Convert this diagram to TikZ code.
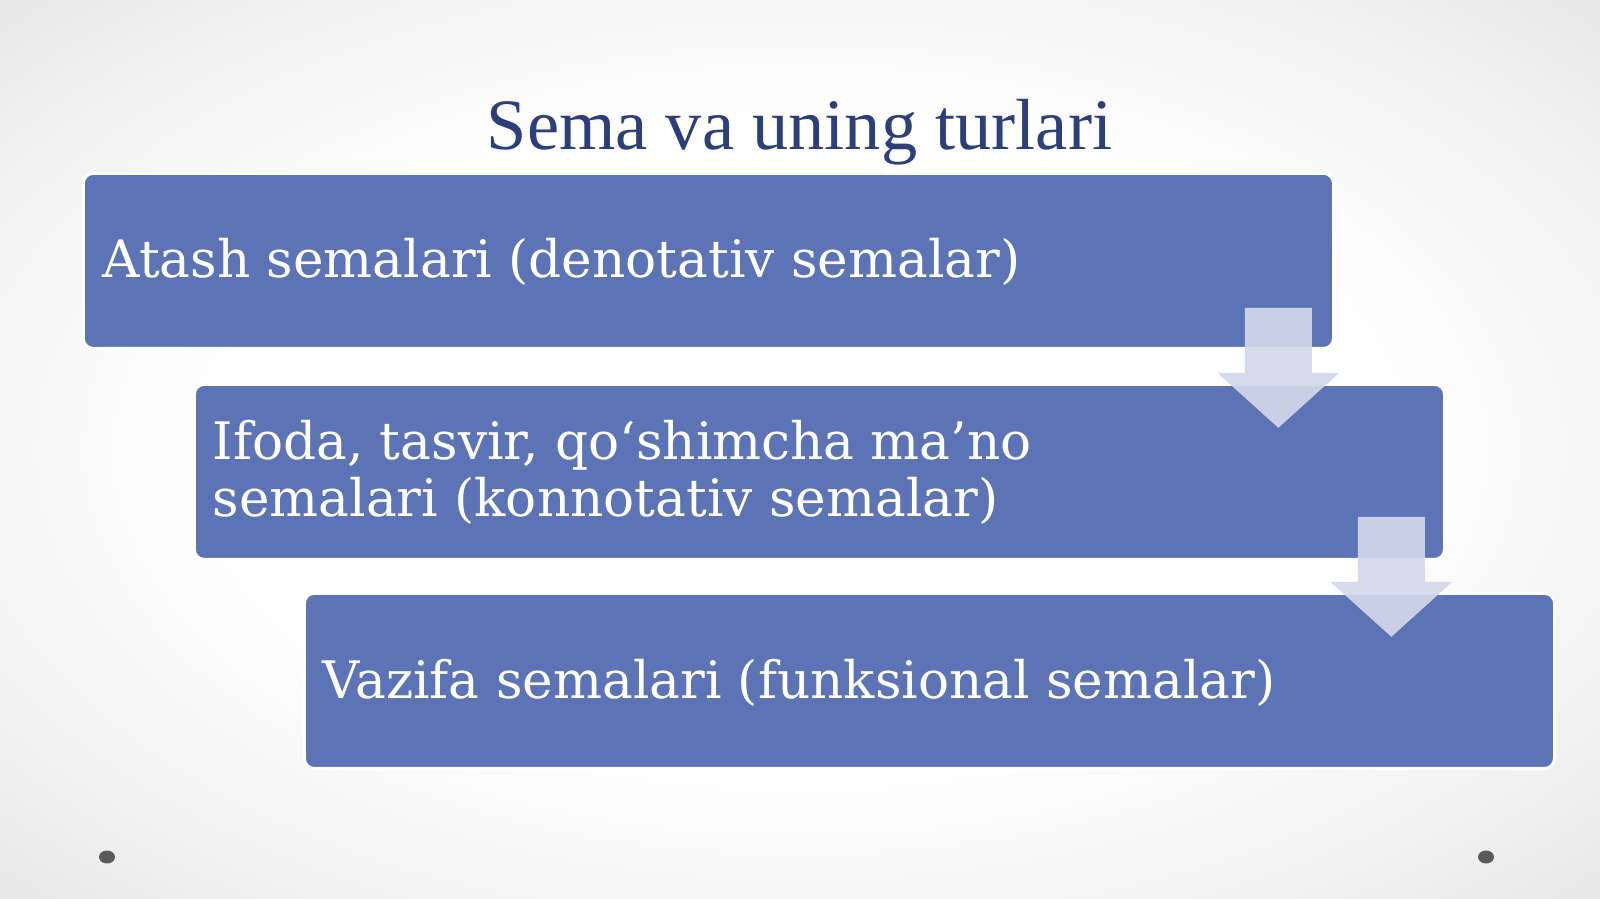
\documentclass[tikz,border=0pt]{standalone}
\usepackage{fontspec}
\setmainfont{Liberation Serif}
\newfontfamily\boxfont{DejaVu Serif}
\usetikzlibrary{calc}
\definecolor{bgc}{HTML}{D2D2D2}
\definecolor{boxc}{HTML}{5C74B5}
\definecolor{titlec}{HTML}{2C3F7A}
\definecolor{arrowc}{HTML}{D3D8EA}
\definecolor{dotc}{HTML}{5A5A5A}
\pgfdeclareradialshading{bgshade}{\pgfpoint{0bp}{0bp}}{%
  color(0bp)=(white); color(18bp)=(white); color(30bp)=(white!94!black);
  color(42bp)=(white!86!black); color(60bp)=(bgc)}
\tikzset{
  box/.style={draw=white, line width=0.8pt, fill=boxc, rounded corners=0.1cm,
    minimum width=12.5cm, minimum height=1.75cm, anchor=north west, inner sep=0pt},
  txt/.style={text=white, font=\boxfont\fontsize{14.7}{16.5}\selectfont, anchor=base west,
    inner sep=0pt, align=left},
  ttl/.style={text=titlec, font=\fontsize{20.6}{24}\selectfont, anchor=base, inner sep=0pt},
  barrow/.style={fill=arrowc, fill opacity=0.92},
}
\newcommand{\myblockarrow}[1]{%
  \fill[barrow] ($(#1)+(-0.335,0)$) -- ($(#1)+(0.335,0)$) -- ($(#1)+(0.335,-0.65)$)
    -- ($(#1)+(0.61,-0.65)$) -- ($(#1)+(0,-1.20)$) -- ($(#1)+(-0.61,-0.65)$)
    -- ($(#1)+(-0.335,-0.65)$) -- cycle;}
\begin{document}
\begin{tikzpicture}
\useasboundingbox (0,0) rectangle (16,-8.99);
\shade[shading=bgshade] (0,0) rectangle (16,-8.99);
\node[ttl] (title) at (7.995,-1.50) {Sema va uning turlari};
\node[box] (b1) at (0.82,-1.72) {};
\node[box] (b2) at (1.93,-3.83) {};
\node[box] (b3) at (3.03,-5.92) {};
\node[txt] (t1) at (1.02,-2.78) {Atash semalari (denotativ semalar)};
\node[txt] (t2) at (2.12,-5.17) {Ifoda, tasvir, qo‘shimcha ma’no\\semalari (konnotativ semalar)};
\node[txt] (t3) at (3.22,-6.99) {Vazifa semalari (funksional semalar)};
\coordinate (a1) at ($(b1.south east)+(-0.565,0.42)$);
\coordinate (a2) at ($(b2.south east)+(-0.545,0.44)$);
\myblockarrow{a1}
\myblockarrow{a2}
\fill[dotc] (1.07,-8.57) ellipse (0.08 and 0.065);
\fill[dotc] (14.86,-8.57) ellipse (0.08 and 0.065);
\end{tikzpicture}
\end{document}
